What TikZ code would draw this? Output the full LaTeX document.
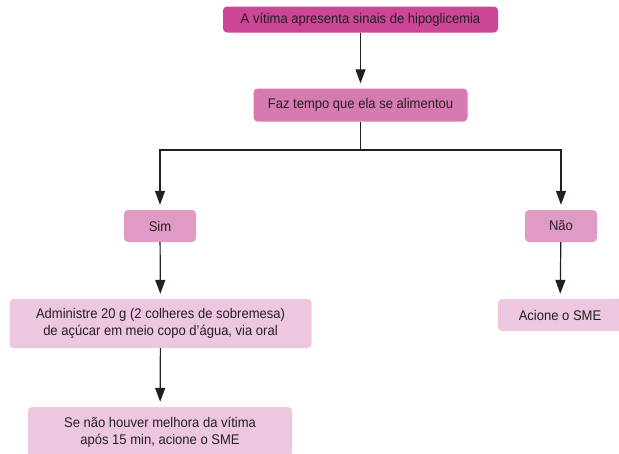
\documentclass[tikz,border=0pt]{standalone}
\usepackage{fontspec}
\setmainfont{Liberation Sans}[FakeStretch=0.93]
\usetikzlibrary{arrows.meta}
\definecolor{ink}{HTML}{231F20}
\definecolor{pinkA}{HTML}{CC4597}
\definecolor{pinkB}{HTML}{D87AB2}
\definecolor{pinkC}{HTML}{DF9BC5}
\definecolor{pinkD}{HTML}{EDC7DF}
\tikzset{
  box/.style={rounded corners=4pt, inner sep=0pt, align=center, text=ink,
    font=\fontsize{14}{17}\selectfont},
  link/.style={draw=ink, line width=1.2pt},
  arr/.style={link, -{Triangle[length=14pt,width=10pt]}, shorten >=5pt},
}
\begin{document}
\begin{tikzpicture}[x=1pt,y=-1pt]
\useasboundingbox (0,0) rectangle (619,453);
\node[box, fill=pinkA, minimum width=275pt, minimum height=26pt] (start) at (360.5,19.5) {A vítima apresenta sinais de hipoglicemia};
\node[box, fill=pinkB, minimum width=214pt, minimum height=33pt] (ask) at (360.5,105) {Faz tempo que ela se alimentou};
\node[box, fill=pinkC, minimum width=72pt, minimum height=32pt] (sim) at (160,226) {Sim};
\node[box, fill=pinkC, minimum width=72pt, minimum height=32pt] (nao) at (561,226) {Não};
\node[box, fill=pinkD, minimum width=302pt, minimum height=49pt] (dose) at (160.5,323.5) {Administre 20 g (2 colheres de sobremesa)\\de açúcar em meio copo d\char"0027água, via oral};
\node[box, fill=pinkD, minimum width=264pt, minimum height=50pt] (wait) at (160,432) {Se não houver melhora da vítima\\após 15 min, acione o SME};
\node[box, fill=pinkD, minimum width=124pt, minimum height=32pt] (call) at (560,315) {Acione o SME};

\coordinate (split) at (360.5,150);
\draw[arr] (start) -- (ask);
\draw[link] (ask) -- (split);
\draw[arr] (split) -| (sim);
\draw[arr] (split) -| (nao);
\draw[arr] (sim) -- (dose);
\draw[arr] (nao) -- (call);
\draw[arr] (dose) -- (wait);
\end{tikzpicture}
\end{document}
